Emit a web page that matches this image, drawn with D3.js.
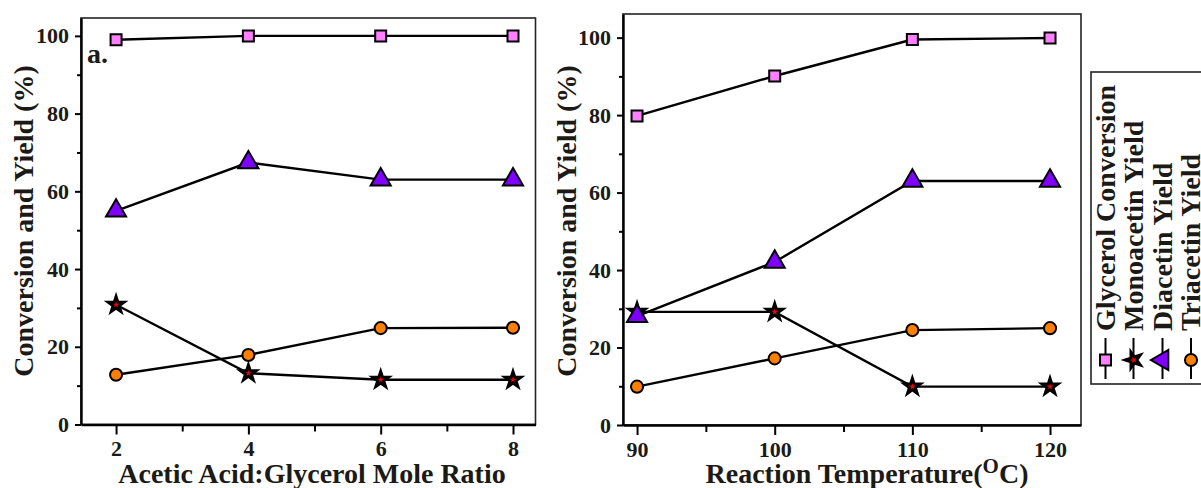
<!DOCTYPE html>
<html>
<head>
<meta charset="utf-8">
<script src="https://cdn.jsdelivr.net/npm/d3@7"></script>
<style>
    body { margin: 0; background: #fff; }
    svg text { font-family: "Liberation Serif", "Times New Roman", serif; font-weight: bold; fill: #1c1a17; }
</style>
</head>
<body>
<svg id="chart" width="1201" height="488"></svg>
<script>
// 数据 - 值
const seriesNames = ["Glycerol Conversion", "Monoacetin Yield", "Diacetin Yield", "Triacetin Yield"];

// a. 醋酸:甘油 摩尔比
const ratioX = [2, 4, 6, 8];
const ratioGlycerol = [99, 100, 100, 100];
const ratioMono = [30.8, 13.2, 11.5, 11.5];
const ratioDi = [55, 67.4, 63, 63];
const ratioTri = [12.8, 17.9, 24.8, 24.9];

// b. 反应温度
const tempX = [90, 100, 110, 120];
const tempGlycerol = [79.8, 90.1, 99.5, 99.9];
const tempMono = [29.2, 29.2, 9.9, 9.9];
const tempDi = [28.1, 42.1, 63, 63];
const tempTri = [9.9, 17.2, 24.5, 25];

const yMajor = [0, 20, 40, 60, 80, 100];
const yMinor = [10, 30, 50, 70, 90];

// 标记样式
const markers = [
    { type: d3.symbolSquare, size: 121, fill: "#ff80ff" },
    { type: d3.symbolStar, size: 75, fill: "#ff0000" },
    { type: d3.symbolTriangle, size: 175, fill: "#8000ff" },
    { type: d3.symbolCircle, size: 115, fill: "#ff8000" }
];

const svg = d3.select("#chart");

function drawPanel(cfg) {
    const x = d3.scaleLinear().domain(cfg.xDomain).range([cfg.left, cfg.right]);
    const y = d3.scaleLinear().domain(cfg.yDomain).range([cfg.bottom, cfg.top]);
    const g = svg.append("g");

    // 边框
    g.append("rect")
        .attr("x", cfg.left).attr("y", cfg.top)
        .attr("width", cfg.right - cfg.left).attr("height", cfg.bottom - cfg.top)
        .attr("fill", "none").attr("stroke", "#222").attr("stroke-width", 1.6);

    // X轴
    g.append("g")
        .attr("transform", `translate(0,${cfg.bottom})`)
        .call(d3.axisBottom(x).tickValues(cfg.xs).tickFormat(d3.format("d"))
            .tickSize(10).tickPadding(6).tickSizeOuter(0));
    g.append("g")
        .attr("transform", `translate(0,${cfg.bottom})`)
        .call(d3.axisBottom(x).tickValues(cfg.xMinor).tickSize(7).tickFormat("").tickSizeOuter(0))
        .select(".domain").remove();

    // Y轴
    g.append("g")
        .attr("transform", `translate(${cfg.left},0)`)
        .call(d3.axisLeft(y).tickValues(yMajor).tickFormat(d3.format("d"))
            .tickSize(6).tickPadding(6).tickSizeOuter(0));
    g.append("g")
        .attr("transform", `translate(${cfg.left},0)`)
        .call(d3.axisLeft(y).tickValues(yMinor).tickSize(4).tickFormat("").tickSizeOuter(0))
        .select(".domain").remove();

    g.selectAll(".domain").attr("stroke", "#000").attr("stroke-width", 2.4);
    g.selectAll(".tick line").attr("stroke", "#000").attr("stroke-width", 2);
    g.selectAll(".tick text").style("font-size", "22px").attr("fill", "#1c1a17");

    // 折线和标记
    const line = d3.line().x((d, i) => x(cfg.xs[i])).y(d => y(d));
    cfg.series.forEach(vals => {
        g.append("path")
            .attr("d", line(vals))
            .attr("fill", "none")
            .attr("stroke", "#000")
            .attr("stroke-width", 2.4);
    });
    cfg.series.forEach((vals, k) => {
        const m = markers[k];
        g.selectAll(null)
            .data(vals)
            .enter()
            .append("path")
            .attr("d", d3.symbol().type(m.type).size(m.size))
            .attr("transform", (d, i) => `translate(${x(cfg.xs[i])},${y(d)})`)
            .attr("fill", m.fill)
            .attr("stroke", "#000")
            .attr("stroke-width", k === 1 ? 3 : 2)
            .attr("stroke-linejoin", "miter");
    });

    // 轴标题
    g.append("text")
        .attr("transform", `translate(${cfg.yTitleX},${cfg.yTitleY}) rotate(-90)`)
        .attr("text-anchor", "middle")
        .style("font-size", "28px")
        .text("Conversion and Yield (%)");

    const xt = g.append("text")
        .attr("x", cfg.xTitleX).attr("y", 483)
        .attr("text-anchor", "middle")
        .style("font-size", "28px");
    cfg.xTitle(xt);
    return g;
}

// 左图
const left = drawPanel({
    left: 81, right: 535.5, top: 18, bottom: 424.5,
    xDomain: [1.47, 8.34], yDomain: [0, 104.6],
    xs: ratioX, xMinor: [3, 5, 7],
    series: [ratioGlycerol, ratioMono, ratioDi, ratioTri],
    yTitleX: 33, yTitleY: 221, xTitleX: 312,
    xTitle: t => t.text("Acetic Acid:Glycerol Mole Ratio")
});
left.append("text")
    .attr("x", 87).attr("y", 63)
    .style("font-size", "28px")
    .text("a.");

// 右图
drawPanel({
    left: 623, right: 1081, top: 14, bottom: 425,
    xDomain: [88.98, 122.25], yDomain: [0, 106.1],
    xs: tempX, xMinor: [95, 105, 115],
    series: [tempGlycerol, tempMono, tempDi, tempTri],
    yTitleX: 576, yTitleY: 221, xTitleX: 867,
    xTitle: t => {
        t.append("tspan").text("Reaction Temperature(");
        t.append("tspan").attr("dy", -10).style("font-size", "21px").text("O");
        t.append("tspan").attr("dy", 10).text("C)");
    }
});

// 图例 (旋转90度)
const legend = svg.append("g");
legend.append("rect")
    .attr("x", 1091).attr("y", 72)
    .attr("width", 140).attr("height", 312)
    .attr("fill", "#fff").attr("stroke", "#222").attr("stroke-width", 1.6);

const legendX = [1105.5, 1133.5, 1162.5, 1191];
seriesNames.forEach((name, k) => {
    const cx = legendX[k];
    const m = markers[k];
    legend.append("line")
        .attr("x1", cx).attr("x2", cx)
        .attr("y1", 338).attr("y2", 379)
        .attr("stroke", "#000").attr("stroke-width", 2);
    legend.append("path")
        .attr("d", d3.symbol().type(m.type).size(m.size))
        .attr("transform", `translate(${cx},360) rotate(-90)`)
        .attr("fill", m.fill)
        .attr("stroke", "#000")
        .attr("stroke-width", k === 1 ? 3 : 2);
    legend.append("text")
        .attr("transform", `translate(${cx + 9},331) rotate(-90)`)
        .style("font-size", "28px")
        .text(name);
});
</script>
</body>
</html>
